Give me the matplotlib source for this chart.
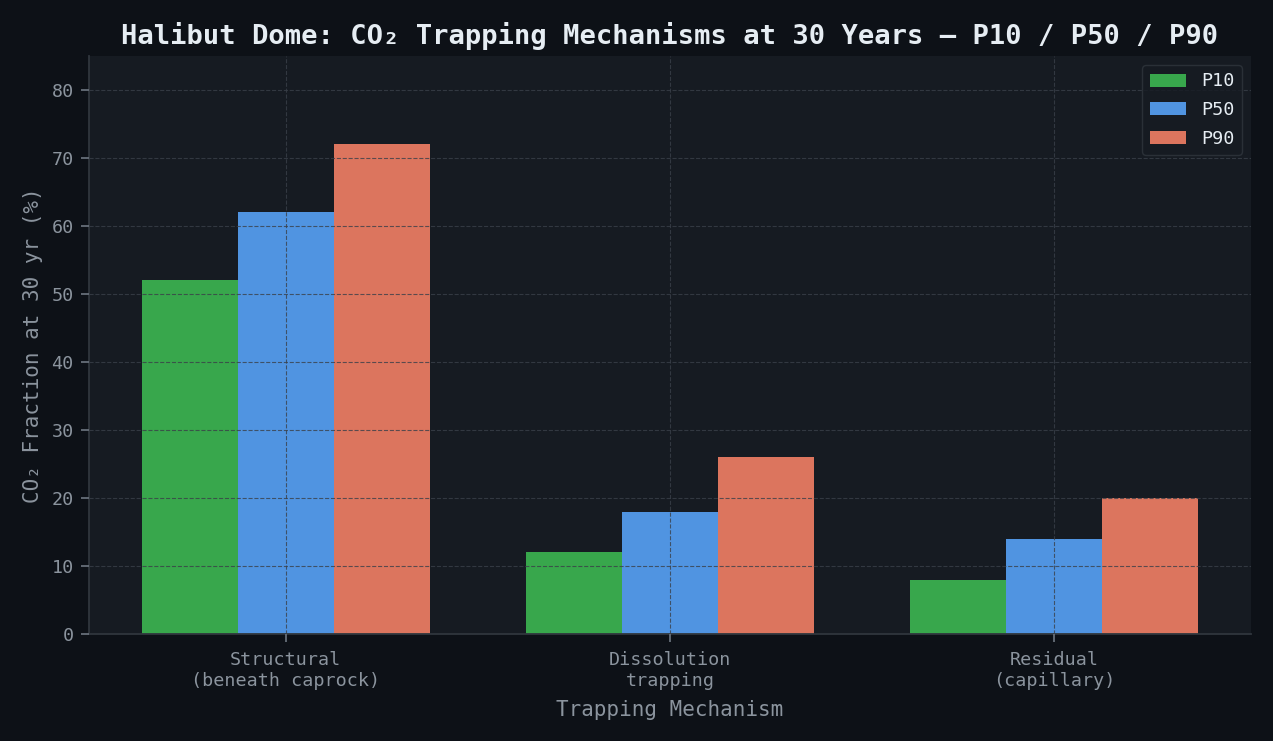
import matplotlib
matplotlib.use("Agg")
import matplotlib.pyplot as plt
import numpy as np

categories = ["Structural\n(beneath caprock)", "Dissolution\ntrapping", "Residual\n(capillary)"]
series_names = ["P10", "P50", "P90"]
p10 = [52, 12, 8]
p50 = [62, 18, 14]
p90 = [72, 26, 20]
colors = ["#38a74c", "#5094e1", "#dc755e"]

plt.rcParams['font.family'] = ['DejaVu Sans Mono']
fig = plt.figure(figsize=(12.73, 7.41), dpi=100)
fig.patch.set_facecolor("#0d1117")
ax = fig.add_axes([89/1273, 1-634/741, (1251-89)/1273, (634-56)/741])
ax.set_facecolor("#161b22")

x = np.arange(len(categories))
w = 0.25
for i, (vals, name) in enumerate(zip([p10, p50, p90], series_names)):
    ax.bar(x + (i - 1) * w, vals, w, color=colors[i], label=name, zorder=1)

ax.set_ylim(0, 85)
ax.set_xticks(x)
ax.set_xticklabels(categories)
ax.set_axisbelow(False)
ax.grid(True, linestyle="--", color="#3a4049", alpha=0.8, linewidth=0.8)
for s in ["top", "right"]:
    ax.spines[s].set_visible(False)
for s in ["left", "bottom"]:
    ax.spines[s].set_color("#30363d")
    ax.spines[s].set_linewidth(1.3)
ax.tick_params(labelcolor="#8b949e", labelsize=13.2, color="#6e7681",
               length=6, width=1.2, pad=5)
ax.tick_params(axis='x', pad=6.5)

ax.set_xlabel("Trapping Mechanism", color="#8b949e", fontsize=15, labelpad=7)
ax.set_ylabel("CO₂ Fraction at 30 yr (%)", color="#8b949e", fontsize=15, labelpad=6)
ax.set_title("Halibut Dome: CO₂ Trapping Mechanisms at 30 Years — P10 / P50 / P90",
             color="#e6edf3", fontsize=19.5, fontweight="bold", pad=9)

leg = ax.legend(loc="upper right", facecolor="#161b22", edgecolor="#30363d",
                fontsize=13.2, borderaxespad=0.5, labelspacing=0.58)
for t in leg.get_texts():
    t.set_color("#e6edf3")

fig.savefig("out.png", dpi=100, facecolor=fig.get_facecolor())
